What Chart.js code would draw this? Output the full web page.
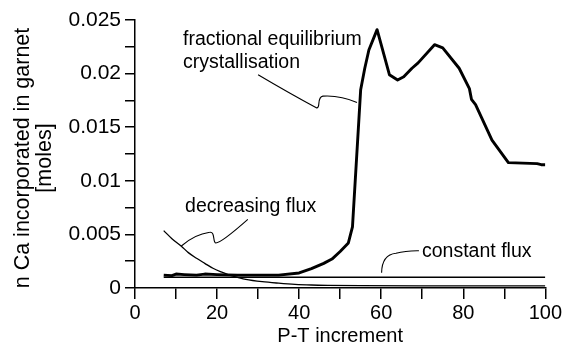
<!DOCTYPE html>
<html>
<head>
<meta charset="utf-8">
<script src="https://cdn.jsdelivr.net/npm/chart.js@4/dist/chart.umd.min.js"></script>
<style>
html,body{margin:0;padding:0;background:#fff;}
#wrap{width:564px;height:346px;}
</style>
</head>
<body>
<div id="wrap"><canvas id="c" width="564" height="346"></canvas></div>
<script>
// ---- data ----
const fracX = [7, 9, 10, 12, 15, 17, 20, 25, 30, 35, 40, 43, 46, 48, 50, 52, 53, 55, 56, 57, 59, 62, 64, 65.5, 67.5, 69, 73, 75, 79, 81.5, 82, 83, 87, 91, 98, 99, 100];
const fracY = [0.0012, 0.00115, 0.0013, 0.00125, 0.0012, 0.0013, 0.00125, 0.0012, 0.0012, 0.0012, 0.0014, 0.0018, 0.0023, 0.0027, 0.0034, 0.0042, 0.0057, 0.0185, 0.0205, 0.0222, 0.0241, 0.0199, 0.0194, 0.0197, 0.0205, 0.0210, 0.0227, 0.0224, 0.0205, 0.0186, 0.0176, 0.0171, 0.0138, 0.0117, 0.0116, 0.0115, 0.0115];

const decX = [7, 9, 11.3, 13, 15, 17, 19, 21, 23, 25, 27, 31, 35, 39, 43, 47, 55, 70, 100];
const decY = [0.00535, 0.0046, 0.0039, 0.0033, 0.00277, 0.0023, 0.00184, 0.0015, 0.00121, 0.001, 0.00081, 0.00059, 0.00045, 0.00034, 0.00028, 0.00025, 0.00022, 0.0002, 0.0002];

const constX = [7, 100];
const constY = [0.001, 0.001];

const xTickLabels = [0, 20, 40, 60, 80, 100];
const yTickLabels = [0, 0.005, 0.01, 0.015, 0.02, 0.025];

const seriesNames = ['fractional equilibrium crystallisation', 'decreasing flux', 'constant flux'];
const yTitleLines = ['n Ca incorporated in garnet', '[moles]'];
const xTitle = 'P-T increment';

function pts(xs, ys){ return xs.map((x,i)=>({x:x, y:ys[i]})); }

const FAMILY = '"Liberation Sans", Arial, Helvetica, sans-serif';

// ---- annotations (data units) ----
const annotations = [
  {lines:['fractional equilibrium','crystallisation'], at:[11.7, 0.02267], lineGap:0.00215,
   path:[['M',30,0.0199],['Q',37.5,0.0182,44.3,0.0168],['C',45.3,0.0168,44.2,0.0178,45.8,0.0179],['Q',50,0.0180,54.1,0.0173]]},
  {lines:['decreasing flux'], at:[12.2, 0.00712], lineGap:0,
   path:[['M',11.3,0.00392],['Q',14.5,0.0050,18.2,0.0052],['C',19.6,0.0053,18.9,0.0042,19.7,0.0042],['Q',21,0.0042,27.5,0.0064]]},
  {lines:['constant flux'], at:[69.95, 0.00289], lineGap:0,
   path:[['M',60.1,0.00143],['Q',60.2,0.0031,63.6,0.00324],['Q',66,0.0035,69.2,0.00348]]}
];

const annoPlugin = {
  id:'annos',
  afterDatasetsDraw(chart){
    const ctx = chart.ctx, sx = chart.scales.x, sy = chart.scales.y;
    const X = v=>sx.getPixelForValue(v), Y = v=>sy.getPixelForValue(v);
    ctx.save();
    ctx.strokeStyle = '#000';
    ctx.lineWidth = 1.1;
    annotations.forEach(a=>{
      ctx.beginPath();
      a.path.forEach(s=>{
        if(s[0]==='M') ctx.moveTo(X(s[1]),Y(s[2]));
        else if(s[0]==='Q') ctx.quadraticCurveTo(X(s[1]),Y(s[2]),X(s[3]),Y(s[4]));
        else if(s[0]==='C') ctx.bezierCurveTo(X(s[1]),Y(s[2]),X(s[3]),Y(s[4]),X(s[5]),Y(s[6]));
      });
      ctx.stroke();
      ctx.fillStyle = '#000';
      ctx.font = '19.5px ' + FAMILY;
      ctx.textAlign = 'left';
      ctx.textBaseline = 'alphabetic';
      a.lines.forEach((t,i)=>{
        ctx.fillText(t, X(a.at[0]), Y(a.at[1] - i*a.lineGap));
      });
    });
    // y axis title (two lines, rotated)
    const cy = (chart.chartArea.top + chart.chartArea.bottom)/2 + 4;
    ctx.font = '21.5px ' + FAMILY;
    ctx.textAlign = 'center';
    ctx.textBaseline = 'alphabetic';
    const baselines = [29, 51];
    yTitleLines.forEach((t,i)=>{
      ctx.save();
      ctx.translate(baselines[i], cy);
      ctx.rotate(-Math.PI/2);
      ctx.fillText(t, 0, 0);
      ctx.restore();
    });
    ctx.restore();
  }
};

new Chart(document.getElementById('c'), {
  type:'line',
  data:{
    datasets:[
      {label:seriesNames[0], data:pts(fracX,fracY), borderColor:'#000', borderWidth:2.9, pointRadius:0, tension:0, borderJoinStyle:'round'},
      {label:seriesNames[1], data:pts(decX,decY), borderColor:'#000', borderWidth:1.3, pointRadius:0, cubicInterpolationMode:'monotone'},
      {label:seriesNames[2], data:pts(constX,constY), borderColor:'#000', borderWidth:1.4, pointRadius:0, tension:0}
    ]
  },
  options:{
    responsive:false,
    animation:false,
    devicePixelRatio:1,
    layout:{padding:{top:20, right:17, left:0, bottom:0}},
    plugins:{legend:{display:false}, tooltip:{enabled:false}},
    scales:{
      x:{
        type:'linear', min:0, max:100,
        afterFit(s){ s.height = 58; },
        border:{color:'#000', width:1.5},
        grid:{drawOnChartArea:false, drawTicks:true, tickLength:11, color:'#000', lineWidth:1.5},
        ticks:{stepSize:10, autoSkip:false, maxRotation:0, color:'#000', font:{family:FAMILY, size:20}, padding:2,
          callback:v=> xTickLabels.includes(v) ? String(v) : ''},
        title:{display:true, text:xTitle, color:'#000', font:{family:FAMILY, size:20, lineHeight:1.0}, padding:{top:0,bottom:0}}
      },
      y:{
        min:0, max:0.025,
        afterFit(s){ s.width = 135; },
        border:{color:'#000', width:1.5},
        grid:{drawOnChartArea:false, drawTicks:true, tickLength:10, color:'#000', lineWidth:1.5},
        ticks:{stepSize:0.0025, autoSkip:false, color:'#000', font:{family:FAMILY, size:21}, padding:4,
          callback:v=>{ const r = +v.toFixed(4); return yTickLabels.some(t=>Math.abs(t-r)<1e-9) ? String(r) : ''; }},
        title:{display:false}
      }
    }
  },
  plugins:[annoPlugin]
});
</script>
</body>
</html>
